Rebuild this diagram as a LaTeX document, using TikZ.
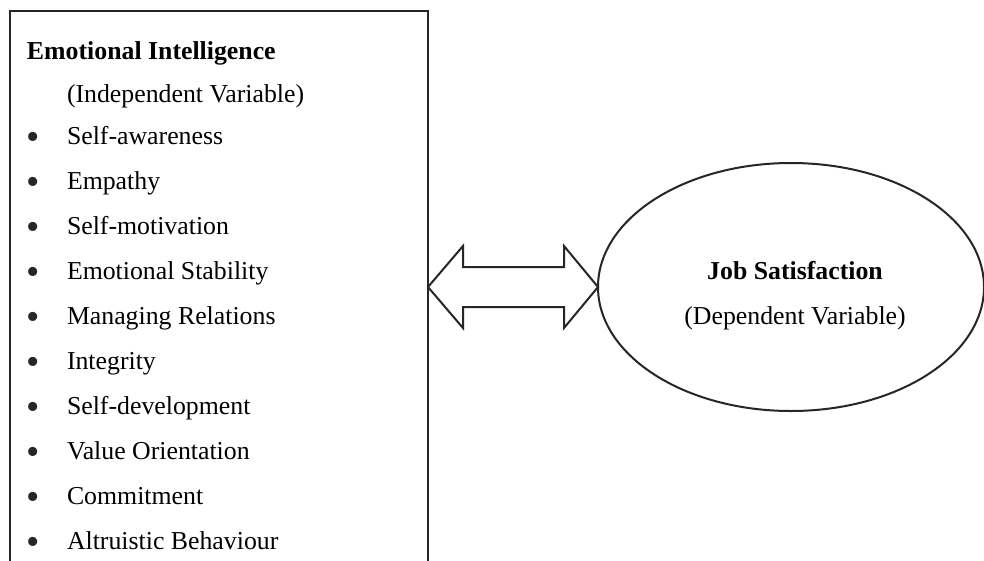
\documentclass[tikz,border=0pt]{standalone}
\usepackage{fontspec}
\setmainfont{Liberation Serif}
\usetikzlibrary{calc,shapes.geometric}
\begin{document}
\begin{tikzpicture}[x=1pt,y=-1pt,
  every node/.style={inner sep=0pt,outer sep=0pt},
  txt/.style={font=\fontsize{25.8}{30}\selectfont,anchor=base west},
  ttl/.style={font=\fontsize{25.8}{30}\selectfont\bfseries,anchor=base west},
  bul/.style={font=\fontsize{38}{40}\selectfont,anchor=base,text height=14pt,text depth=0pt,text=black!85},
  ctxt/.style={font=\fontsize{25.8}{30}\selectfont,anchor=base},
  ctl/.style={font=\fontsize{25.8}{30}\selectfont\bfseries,anchor=base},
  frame/.style={draw=black!85,line width=2pt},
  dbl/.style={draw=black!85,line width=2pt,line join=miter}]
\useasboundingbox (0,0) rectangle (984,560);
\clip (0,0) rectangle (984,560);
\fill[white] (0,0) rectangle (984,560);
% left box
\node[frame,minimum width=418pt,minimum height=600pt,anchor=north west] (box) at (10,11) {};
\node[ttl] (t0) at (27,59) {Emotional Intelligence};
\node[txt] (t1) at (67,102) {(Independent Variable)};
\foreach \i/\s in {0/Self-awareness,1/Empathy,2/Self-motivation,3/Emotional Stability,4/Managing Relations,5/Integrity,6/Self-development,7/Value Orientation,8/Commitment,9/Altruistic Behaviour}{
  \node[bul] (b\i) at (33.5,{149+45.1*\i}) {\textbullet};
  \node[txt] (i\i) at (67,{144+45.1*\i}) {\s};
}
% ellipse
\node[draw=black!85,line width=2pt,ellipse,minimum width=386pt,minimum height=248pt] (js) at (791,287) {};
\node[ctl] (j1) at (795,279) {Job Satisfaction};
\node[ctxt] (j2) at (795,324) {(Dependent Variable)};
% double arrow
\coordinate (L) at (js.west -| box.east);
\coordinate (R) at (js.west);
\draw[dbl] (L) -- ($(L)+(35,-41)$) -- ($(L)+(35,-20)$) -- ($(R)+(-34,-20)$) -- ($(R)+(-34,-41)$)
  -- (R) -- ($(R)+(-34,41)$) -- ($(R)+(-34,20)$) -- ($(L)+(35,20)$) -- ($(L)+(35,41)$) -- cycle;
\end{tikzpicture}
\end{document}
